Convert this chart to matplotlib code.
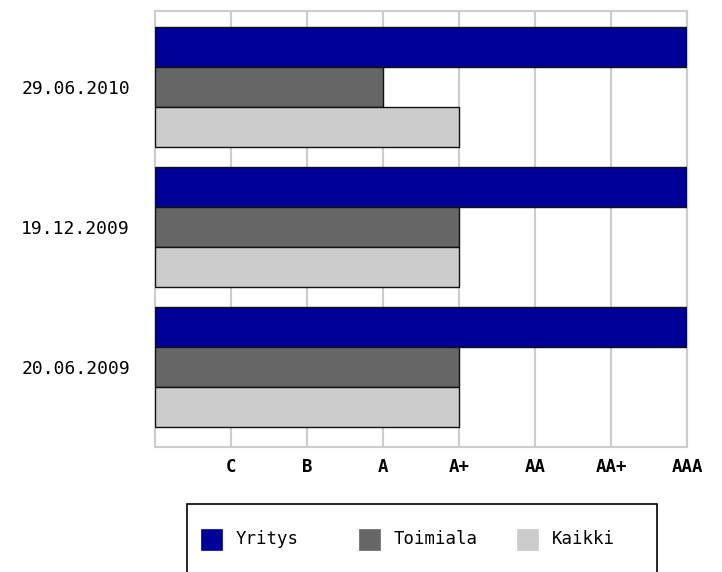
import matplotlib
matplotlib.use("Agg")
import matplotlib.pyplot as plt
from matplotlib.patches import Rectangle
import numpy as np

dates = ["20.06.2009", "19.12.2009", "29.06.2010"]
ratings = ["C", "B", "A", "A+", "AA", "AA+", "AAA"]
series_names = ["Yritys", "Toimiala", "Kaikki"]
yritys = [7, 7, 7]
toimiala = [4, 4, 3]
kaikki = [4, 4, 4]
colors = ["#000099", "#666666", "#cccccc"]

W, H = 722, 572
fig = plt.figure(figsize=(W/100, H/100), dpi=100)
ax = fig.add_axes([155/W, 1 - 447/H, (687-155)/W, (447-11)/H])

y = np.arange(len(dates))
h = 40/140
for vals, off, c, name in zip([yritys, toimiala, kaikki], [h, 0, -h], colors, series_names):
    ax.barh(y + off, vals, height=h, color=c, edgecolor="#111111", linewidth=1.0, label=name, zorder=3)

ax.set_xlim(0, 7)
ax.set_ylim(-80/140, 2 + 76/140)
ax.set_xticks(np.arange(1, len(ratings) + 1))
ax.set_xticklabels(ratings, fontfamily="DejaVu Sans Mono", fontweight="bold", fontsize=12.5)
ax.set_yticks(y)
ax.set_yticklabels(dates, fontfamily="DejaVu Sans Mono", fontsize=13)
ax.tick_params(axis="both", length=0)
ax.tick_params(axis="y", pad=18)
ax.tick_params(axis="x", pad=8)
ax.grid(axis="x", color="#cccccc", linewidth=1.5, zorder=0)
for s in ax.spines.values():
    s.set_color("#cccccc")
    s.set_linewidth(1.5)

# legend box
box = Rectangle((187/W, -0.05), (657-187)/W, 0.05 + (H-504)/H, transform=fig.transFigure,
                facecolor="white", edgecolor="black", linewidth=1.2, clip_on=False)
fig.add_artist(box)
legend_x = [201, 359, 517]
ly = 539
for lx, c, n in zip(legend_x, colors, series_names):
    fig.add_artist(Rectangle((lx/W, 1 - (ly+10.5)/H), 21/W, 21/H, transform=fig.transFigure,
                             facecolor=c, edgecolor=c, linewidth=0.5))
    fig.text((lx+35)/W, 1 - ly/H, n, fontfamily="DejaVu Sans Mono", fontsize=12.5,
             va="center", ha="left")

fig.savefig("out.png", dpi=100)
